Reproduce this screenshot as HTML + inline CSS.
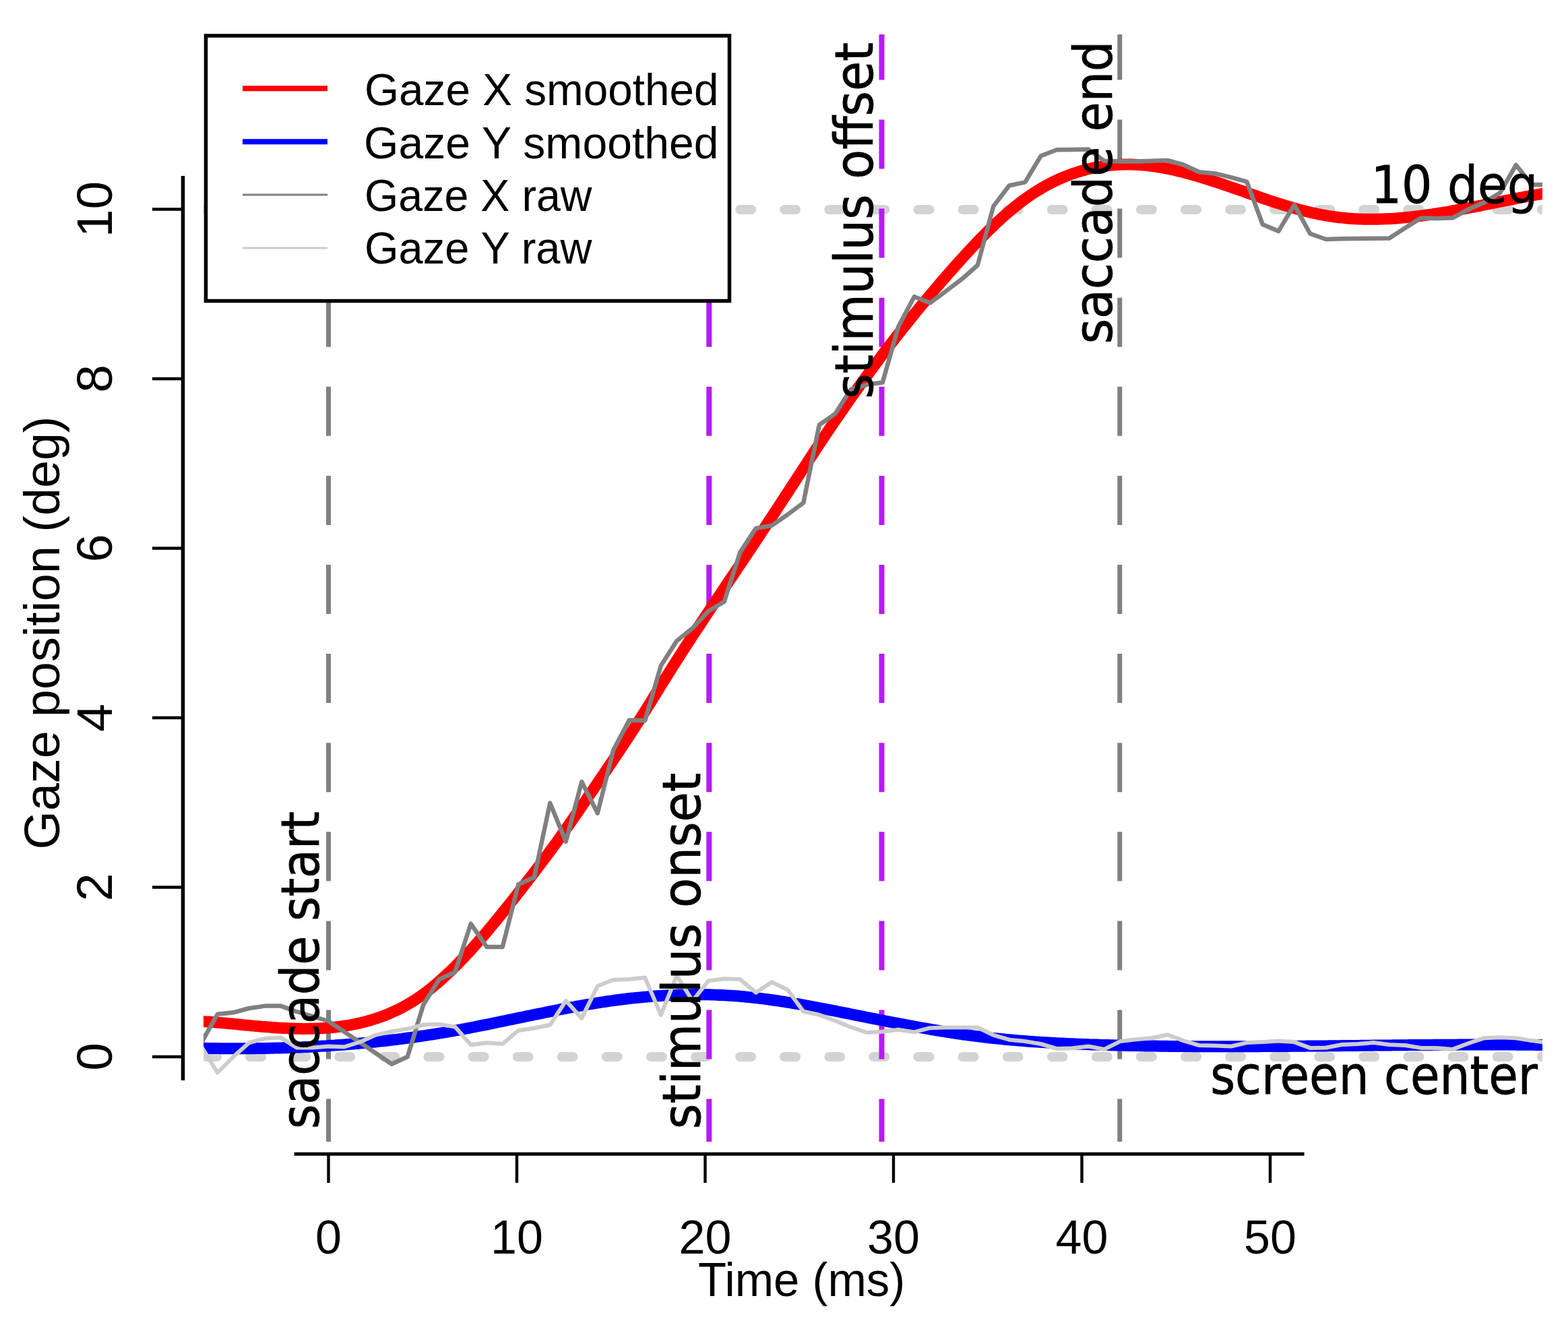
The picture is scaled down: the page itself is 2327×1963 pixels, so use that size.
<!DOCTYPE html>
<html><head><meta charset="utf-8"><title>Gaze position plot</title>
<style>html,body{margin:0;padding:0;background:#fff;overflow:hidden;} svg{display:block;}</style>
</head><body>
<svg width="2327" height="1963" viewBox="0 0 2327 1963">
<defs><clipPath id="pc"><rect x="302" y="50" width="1987" height="1644"/></clipPath><clipPath id="pcv"><rect x="302" y="51" width="1987" height="1643"/></clipPath></defs>
<rect width="2327" height="1963" fill="#fff"/>
<g clip-path="url(#pc)">
<path d="M305,311.0 H2300" stroke="#d3d3d3" stroke-width="14" stroke-linecap="round" stroke-dasharray="17 49.09" fill="none"/>
<path d="M305,1568.0 H2300" stroke="#d3d3d3" stroke-width="14" stroke-linecap="round" stroke-dasharray="17 49.09" fill="none"/>
</g><g clip-path="url(#pcv)">
<path d="M487.5,45.4 V1700" stroke="#808080" stroke-width="7" stroke-dasharray="73 59.1" fill="none"/>
<path d="M1661.8,45.4 V1700" stroke="#808080" stroke-width="7" stroke-dasharray="73 59.1" fill="none"/>
<path d="M1052.3,45.4 V1700" stroke="#b91af4" stroke-width="8" stroke-dasharray="73 59.1" fill="none"/>
<path d="M1308.5,45.4 V1700" stroke="#b91af4" stroke-width="8" stroke-dasharray="73 59.1" fill="none"/>
</g><g clip-path="url(#pc)">
<path d="M296.0,1515.1 L300.0,1515.4 L304.0,1515.7 L308.0,1515.9 L312.0,1516.2 L316.0,1516.6 L320.0,1516.9 L324.0,1517.2 L328.0,1517.6 L332.0,1517.9 L336.0,1518.3 L340.0,1518.7 L344.0,1519.0 L348.0,1519.4 L352.0,1519.8 L356.0,1520.2 L360.0,1520.6 L364.0,1521.0 L368.0,1521.3 L372.0,1521.7 L376.0,1522.1 L380.0,1522.5 L384.0,1522.8 L388.0,1523.2 L392.0,1523.5 L396.0,1523.8 L400.0,1524.1 L404.0,1524.4 L408.0,1524.7 L412.0,1525.0 L416.0,1525.2 L420.0,1525.4 L424.0,1525.6 L428.0,1525.8 L432.0,1526.0 L436.0,1526.1 L440.0,1526.2 L444.0,1526.3 L448.0,1526.4 L452.0,1526.4 L456.0,1526.4 L460.0,1526.3 L464.0,1526.2 L468.0,1526.1 L472.0,1526.0 L476.0,1525.8 L480.0,1525.6 L484.0,1525.3 L488.0,1525.0 L492.0,1524.6 L496.0,1524.2 L500.0,1523.8 L504.0,1523.3 L508.0,1522.7 L512.0,1522.1 L516.0,1521.5 L520.0,1520.8 L524.0,1520.0 L528.0,1519.2 L532.0,1518.4 L536.0,1517.4 L540.0,1516.5 L544.0,1515.4 L548.0,1514.3 L552.0,1513.1 L556.0,1511.9 L560.0,1510.6 L564.0,1509.2 L568.0,1507.7 L572.0,1506.2 L576.0,1504.6 L580.0,1502.9 L584.0,1501.1 L588.0,1499.3 L592.0,1497.3 L596.0,1495.3 L600.0,1493.1 L604.0,1490.9 L608.0,1488.5 L612.0,1486.1 L616.0,1483.6 L620.0,1480.9 L624.0,1478.2 L628.0,1475.3 L632.0,1472.3 L636.0,1469.3 L640.0,1466.1 L644.0,1462.8 L648.0,1459.5 L652.0,1456.0 L656.0,1452.5 L660.0,1448.8 L664.0,1445.1 L668.0,1441.3 L672.0,1437.4 L676.0,1433.5 L680.0,1429.4 L684.0,1425.3 L688.0,1421.1 L692.0,1416.9 L696.0,1412.6 L700.0,1408.2 L704.0,1403.7 L708.0,1399.2 L712.0,1394.7 L716.0,1390.1 L720.0,1385.4 L724.0,1380.7 L728.0,1375.9 L732.0,1371.1 L736.0,1366.3 L740.0,1361.4 L744.0,1356.5 L748.0,1351.5 L752.0,1346.5 L756.0,1341.5 L760.0,1336.5 L764.0,1331.4 L768.0,1326.3 L772.0,1321.2 L776.0,1316.1 L780.0,1310.9 L784.0,1305.8 L788.0,1300.6 L792.0,1295.4 L796.0,1290.1 L800.0,1284.9 L804.0,1279.5 L808.0,1274.2 L812.0,1268.8 L816.0,1263.4 L820.0,1257.9 L824.0,1252.4 L828.0,1246.9 L832.0,1241.3 L836.0,1235.6 L840.0,1229.9 L844.0,1224.2 L848.0,1218.5 L852.0,1212.7 L856.0,1207.0 L860.0,1201.2 L864.0,1195.3 L868.0,1189.5 L872.0,1183.7 L876.0,1177.8 L880.0,1171.9 L884.0,1166.0 L888.0,1160.2 L892.0,1154.3 L896.0,1148.4 L900.0,1142.5 L904.0,1136.6 L908.0,1130.7 L912.0,1124.7 L916.0,1118.8 L920.0,1112.8 L924.0,1106.8 L928.0,1100.8 L932.0,1094.7 L936.0,1088.6 L940.0,1082.4 L944.0,1076.2 L948.0,1069.9 L952.0,1063.6 L956.0,1057.2 L960.0,1050.8 L964.0,1044.4 L968.0,1038.0 L972.0,1031.5 L976.0,1025.1 L980.0,1018.6 L984.0,1012.1 L988.0,1005.7 L992.0,999.3 L996.0,992.9 L1000.0,986.6 L1004.0,980.3 L1008.0,974.1 L1012.0,967.8 L1016.0,961.6 L1020.0,955.5 L1024.0,949.3 L1028.0,943.2 L1032.0,937.1 L1036.0,931.0 L1040.0,925.0 L1044.0,918.9 L1048.0,912.9 L1052.0,906.9 L1056.0,900.9 L1060.0,894.9 L1064.0,888.9 L1068.0,882.9 L1072.0,877.0 L1076.0,871.0 L1080.0,865.0 L1084.0,859.1 L1088.0,853.1 L1092.0,847.1 L1096.0,841.1 L1100.0,835.2 L1104.0,829.2 L1108.0,823.2 L1112.0,817.2 L1116.0,811.2 L1120.0,805.2 L1124.0,799.2 L1128.0,793.2 L1132.0,787.1 L1136.0,781.1 L1140.0,775.0 L1144.0,769.0 L1148.0,762.9 L1152.0,756.8 L1156.0,750.7 L1160.0,744.6 L1164.0,738.4 L1168.0,732.3 L1172.0,726.1 L1176.0,720.0 L1180.0,713.8 L1184.0,707.7 L1188.0,701.5 L1192.0,695.4 L1196.0,689.3 L1200.0,683.2 L1204.0,677.1 L1208.0,671.0 L1212.0,664.9 L1216.0,658.9 L1220.0,652.9 L1224.0,646.9 L1228.0,640.9 L1232.0,635.0 L1236.0,629.1 L1240.0,623.2 L1244.0,617.4 L1248.0,611.6 L1252.0,605.8 L1256.0,600.1 L1260.0,594.4 L1264.0,588.7 L1268.0,583.1 L1272.0,577.5 L1276.0,571.9 L1280.0,566.4 L1284.0,560.9 L1288.0,555.4 L1292.0,550.0 L1296.0,544.6 L1300.0,539.2 L1304.0,533.8 L1308.0,528.5 L1312.0,523.3 L1316.0,518.0 L1320.0,512.8 L1324.0,507.6 L1328.0,502.4 L1332.0,497.3 L1336.0,492.2 L1340.0,487.1 L1344.0,482.1 L1348.0,477.1 L1352.0,472.1 L1356.0,467.2 L1360.0,462.2 L1364.0,457.3 L1368.0,452.5 L1372.0,447.7 L1376.0,442.9 L1380.0,438.1 L1384.0,433.4 L1388.0,428.6 L1392.0,424.0 L1396.0,419.3 L1400.0,414.7 L1404.0,410.1 L1408.0,405.5 L1412.0,401.0 L1416.0,396.5 L1420.0,392.0 L1424.0,387.5 L1428.0,383.1 L1432.0,378.7 L1436.0,374.4 L1440.0,370.1 L1444.0,365.8 L1448.0,361.6 L1452.0,357.4 L1456.0,353.2 L1460.0,349.2 L1464.0,345.1 L1468.0,341.2 L1472.0,337.3 L1476.0,333.4 L1480.0,329.6 L1484.0,325.9 L1488.0,322.3 L1492.0,318.7 L1496.0,315.3 L1500.0,311.9 L1504.0,308.5 L1508.0,305.3 L1512.0,302.1 L1516.0,299.1 L1520.0,296.1 L1524.0,293.3 L1528.0,290.5 L1532.0,287.8 L1536.0,285.2 L1540.0,282.7 L1544.0,280.2 L1548.0,277.9 L1552.0,275.6 L1556.0,273.5 L1560.0,271.4 L1564.0,269.4 L1568.0,267.5 L1572.0,265.6 L1576.0,263.9 L1580.0,262.2 L1584.0,260.6 L1588.0,259.1 L1592.0,257.6 L1596.0,256.3 L1600.0,255.0 L1604.0,253.8 L1608.0,252.7 L1612.0,251.6 L1616.0,250.6 L1620.0,249.7 L1624.0,248.9 L1628.0,248.1 L1632.0,247.4 L1636.0,246.8 L1640.0,246.2 L1644.0,245.7 L1648.0,245.3 L1652.0,244.9 L1656.0,244.6 L1660.0,244.4 L1664.0,244.2 L1668.0,244.1 L1672.0,244.0 L1676.0,244.1 L1680.0,244.1 L1684.0,244.3 L1688.0,244.5 L1692.0,244.7 L1696.0,245.0 L1700.0,245.4 L1704.0,245.8 L1708.0,246.3 L1712.0,246.8 L1716.0,247.4 L1720.0,248.0 L1724.0,248.7 L1728.0,249.4 L1732.0,250.2 L1736.0,251.0 L1740.0,251.8 L1744.0,252.7 L1748.0,253.7 L1752.0,254.6 L1756.0,255.6 L1760.0,256.7 L1764.0,257.7 L1768.0,258.8 L1772.0,260.0 L1776.0,261.1 L1780.0,262.3 L1784.0,263.5 L1788.0,264.8 L1792.0,266.0 L1796.0,267.3 L1800.0,268.6 L1804.0,269.9 L1808.0,271.2 L1812.0,272.6 L1816.0,273.9 L1820.0,275.3 L1824.0,276.7 L1828.0,278.1 L1832.0,279.4 L1836.0,280.8 L1840.0,282.2 L1844.0,283.6 L1848.0,285.0 L1852.0,286.5 L1856.0,287.9 L1860.0,289.2 L1864.0,290.6 L1868.0,292.0 L1872.0,293.4 L1876.0,294.8 L1880.0,296.1 L1884.0,297.5 L1888.0,298.8 L1892.0,300.1 L1896.0,301.4 L1900.0,302.6 L1904.0,303.9 L1908.0,305.1 L1912.0,306.3 L1916.0,307.5 L1920.0,308.7 L1924.0,309.8 L1928.0,310.9 L1932.0,311.9 L1936.0,313.0 L1940.0,314.0 L1944.0,314.9 L1948.0,315.9 L1952.0,316.7 L1956.0,317.6 L1960.0,318.4 L1964.0,319.1 L1968.0,319.8 L1972.0,320.5 L1976.0,321.1 L1980.0,321.7 L1984.0,322.2 L1988.0,322.7 L1992.0,323.1 L1996.0,323.5 L2000.0,323.9 L2004.0,324.2 L2008.0,324.5 L2012.0,324.7 L2016.0,324.9 L2020.0,325.1 L2024.0,325.2 L2028.0,325.3 L2032.0,325.3 L2036.0,325.3 L2040.0,325.3 L2044.0,325.2 L2048.0,325.1 L2052.0,325.0 L2056.0,324.8 L2060.0,324.7 L2064.0,324.4 L2068.0,324.2 L2072.0,323.9 L2076.0,323.6 L2080.0,323.3 L2084.0,322.9 L2088.0,322.5 L2092.0,322.1 L2096.0,321.7 L2100.0,321.3 L2104.0,320.8 L2108.0,320.3 L2112.0,319.8 L2116.0,319.2 L2120.0,318.7 L2124.0,318.1 L2128.0,317.5 L2132.0,316.9 L2136.0,316.2 L2140.0,315.6 L2144.0,314.9 L2148.0,314.3 L2152.0,313.6 L2156.0,312.9 L2160.0,312.2 L2164.0,311.4 L2168.0,310.7 L2172.0,310.0 L2176.0,309.2 L2180.0,308.4 L2184.0,307.7 L2188.0,306.9 L2192.0,306.1 L2196.0,305.3 L2200.0,304.5 L2204.0,303.7 L2208.0,302.9 L2212.0,302.1 L2216.0,301.3 L2220.0,300.5 L2224.0,299.7 L2228.0,298.9 L2232.0,298.1 L2236.0,297.3 L2240.0,296.6 L2244.0,295.8 L2248.0,295.0 L2252.0,294.2 L2256.0,293.4 L2260.0,292.7 L2264.0,291.9 L2268.0,291.2 L2272.0,290.4 L2276.0,289.7 L2280.0,289.0 L2284.0,288.3 L2288.0,287.6 L2292.0,286.9 L2296.0,286.2" stroke="#ff0000" stroke-width="17" fill="none" stroke-linejoin="round" stroke-linecap="round"/>
<path d="M296.0,1555.1 L300.0,1555.2 L304.0,1555.3 L308.0,1555.4 L312.0,1555.4 L316.0,1555.5 L320.0,1555.6 L324.0,1555.6 L328.0,1555.7 L332.0,1555.7 L336.0,1555.7 L340.0,1555.7 L344.0,1555.8 L348.0,1555.8 L352.0,1555.8 L356.0,1555.8 L360.0,1555.8 L364.0,1555.7 L368.0,1555.7 L372.0,1555.7 L376.0,1555.7 L380.0,1555.6 L384.0,1555.6 L388.0,1555.5 L392.0,1555.4 L396.0,1555.4 L400.0,1555.3 L404.0,1555.2 L408.0,1555.1 L412.0,1555.0 L416.0,1554.9 L420.0,1554.8 L424.0,1554.7 L428.0,1554.5 L432.0,1554.4 L436.0,1554.2 L440.0,1554.1 L444.0,1553.9 L448.0,1553.8 L452.0,1553.6 L456.0,1553.4 L460.0,1553.2 L464.0,1553.0 L468.0,1552.8 L472.0,1552.6 L476.0,1552.3 L480.0,1552.1 L484.0,1551.9 L488.0,1551.6 L492.0,1551.3 L496.0,1551.1 L500.0,1550.8 L504.0,1550.5 L508.0,1550.2 L512.0,1549.9 L516.0,1549.6 L520.0,1549.3 L524.0,1548.9 L528.0,1548.6 L532.0,1548.3 L536.0,1547.9 L540.0,1547.5 L544.0,1547.1 L548.0,1546.8 L552.0,1546.4 L556.0,1546.0 L560.0,1545.5 L564.0,1545.1 L568.0,1544.7 L572.0,1544.2 L576.0,1543.8 L580.0,1543.3 L584.0,1542.8 L588.0,1542.4 L592.0,1541.9 L596.0,1541.4 L600.0,1540.8 L604.0,1540.3 L608.0,1539.8 L612.0,1539.2 L616.0,1538.7 L620.0,1538.1 L624.0,1537.5 L628.0,1536.9 L632.0,1536.3 L636.0,1535.7 L640.0,1535.1 L644.0,1534.5 L648.0,1533.8 L652.0,1533.2 L656.0,1532.5 L660.0,1531.8 L664.0,1531.2 L668.0,1530.5 L672.0,1529.8 L676.0,1529.0 L680.0,1528.3 L684.0,1527.6 L688.0,1526.8 L692.0,1526.1 L696.0,1525.3 L700.0,1524.5 L704.0,1523.8 L708.0,1523.0 L712.0,1522.2 L716.0,1521.4 L720.0,1520.6 L724.0,1519.8 L728.0,1519.0 L732.0,1518.2 L736.0,1517.3 L740.0,1516.5 L744.0,1515.7 L748.0,1514.9 L752.0,1514.0 L756.0,1513.2 L760.0,1512.4 L764.0,1511.5 L768.0,1510.7 L772.0,1509.9 L776.0,1509.1 L780.0,1508.2 L784.0,1507.4 L788.0,1506.6 L792.0,1505.7 L796.0,1504.9 L800.0,1504.1 L804.0,1503.3 L808.0,1502.5 L812.0,1501.7 L816.0,1500.9 L820.0,1500.1 L824.0,1499.3 L828.0,1498.5 L832.0,1497.7 L836.0,1497.0 L840.0,1496.2 L844.0,1495.5 L848.0,1494.7 L852.0,1494.0 L856.0,1493.2 L860.0,1492.5 L864.0,1491.8 L868.0,1491.1 L872.0,1490.4 L876.0,1489.8 L880.0,1489.1 L884.0,1488.5 L888.0,1487.8 L892.0,1487.2 L896.0,1486.6 L900.0,1486.0 L904.0,1485.4 L908.0,1484.9 L912.0,1484.3 L916.0,1483.8 L920.0,1483.3 L924.0,1482.8 L928.0,1482.3 L932.0,1481.8 L936.0,1481.3 L940.0,1480.9 L944.0,1480.5 L948.0,1480.1 L952.0,1479.7 L956.0,1479.3 L960.0,1479.0 L964.0,1478.6 L968.0,1478.3 L972.0,1478.0 L976.0,1477.7 L980.0,1477.4 L984.0,1477.2 L988.0,1477.0 L992.0,1476.7 L996.0,1476.6 L1000.0,1476.4 L1004.0,1476.2 L1008.0,1476.1 L1012.0,1476.0 L1016.0,1475.9 L1020.0,1475.8 L1024.0,1475.7 L1028.0,1475.7 L1032.0,1475.6 L1036.0,1475.6 L1040.0,1475.7 L1044.0,1475.7 L1048.0,1475.8 L1052.0,1475.8 L1056.0,1475.9 L1060.0,1476.1 L1064.0,1476.2 L1068.0,1476.4 L1072.0,1476.5 L1076.0,1476.8 L1080.0,1477.0 L1084.0,1477.2 L1088.0,1477.5 L1092.0,1477.8 L1096.0,1478.1 L1100.0,1478.4 L1104.0,1478.8 L1108.0,1479.2 L1112.0,1479.6 L1116.0,1480.0 L1120.0,1480.5 L1124.0,1480.9 L1128.0,1481.4 L1132.0,1481.9 L1136.0,1482.4 L1140.0,1482.9 L1144.0,1483.5 L1148.0,1484.0 L1152.0,1484.6 L1156.0,1485.2 L1160.0,1485.8 L1164.0,1486.4 L1168.0,1487.1 L1172.0,1487.7 L1176.0,1488.4 L1180.0,1489.1 L1184.0,1489.7 L1188.0,1490.4 L1192.0,1491.1 L1196.0,1491.9 L1200.0,1492.6 L1204.0,1493.3 L1208.0,1494.1 L1212.0,1494.8 L1216.0,1495.6 L1220.0,1496.3 L1224.0,1497.1 L1228.0,1497.9 L1232.0,1498.6 L1236.0,1499.4 L1240.0,1500.2 L1244.0,1501.0 L1248.0,1501.8 L1252.0,1502.6 L1256.0,1503.4 L1260.0,1504.2 L1264.0,1505.0 L1268.0,1505.8 L1272.0,1506.6 L1276.0,1507.4 L1280.0,1508.2 L1284.0,1509.0 L1288.0,1509.8 L1292.0,1510.6 L1296.0,1511.4 L1300.0,1512.2 L1304.0,1513.0 L1308.0,1513.8 L1312.0,1514.5 L1316.0,1515.3 L1320.0,1516.1 L1324.0,1516.9 L1328.0,1517.6 L1332.0,1518.4 L1336.0,1519.2 L1340.0,1519.9 L1344.0,1520.7 L1348.0,1521.4 L1352.0,1522.1 L1356.0,1522.9 L1360.0,1523.6 L1364.0,1524.3 L1368.0,1525.0 L1372.0,1525.7 L1376.0,1526.4 L1380.0,1527.1 L1384.0,1527.8 L1388.0,1528.5 L1392.0,1529.1 L1396.0,1529.8 L1400.0,1530.4 L1404.0,1531.1 L1408.0,1531.7 L1412.0,1532.3 L1416.0,1532.9 L1420.0,1533.5 L1424.0,1534.1 L1428.0,1534.7 L1432.0,1535.2 L1436.0,1535.8 L1440.0,1536.3 L1444.0,1536.9 L1448.0,1537.4 L1452.0,1537.9 L1456.0,1538.4 L1460.0,1538.8 L1464.0,1539.3 L1468.0,1539.7 L1472.0,1540.2 L1476.0,1540.6 L1480.0,1541.0 L1484.0,1541.4 L1488.0,1541.8 L1492.0,1542.2 L1496.0,1542.6 L1500.0,1542.9 L1504.0,1543.3 L1508.0,1543.6 L1512.0,1544.0 L1516.0,1544.3 L1520.0,1544.6 L1524.0,1544.9 L1528.0,1545.2 L1532.0,1545.5 L1536.0,1545.8 L1540.0,1546.0 L1544.0,1546.3 L1548.0,1546.5 L1552.0,1546.8 L1556.0,1547.0 L1560.0,1547.3 L1564.0,1547.5 L1568.0,1547.7 L1572.0,1547.9 L1576.0,1548.1 L1580.0,1548.3 L1584.0,1548.5 L1588.0,1548.7 L1592.0,1548.8 L1596.0,1549.0 L1600.0,1549.2 L1604.0,1549.3 L1608.0,1549.5 L1612.0,1549.6 L1616.0,1549.8 L1620.0,1549.9 L1624.0,1550.0 L1628.0,1550.1 L1632.0,1550.3 L1636.0,1550.4 L1640.0,1550.5 L1644.0,1550.6 L1648.0,1550.7 L1652.0,1550.8 L1656.0,1550.9 L1660.0,1551.0 L1664.0,1551.1 L1668.0,1551.2 L1672.0,1551.3 L1676.0,1551.4 L1680.0,1551.5 L1684.0,1551.6 L1688.0,1551.6 L1692.0,1551.7 L1696.0,1551.8 L1700.0,1551.9 L1704.0,1551.9 L1708.0,1552.0 L1712.0,1552.0 L1716.0,1552.1 L1720.0,1552.2 L1724.0,1552.2 L1728.0,1552.3 L1732.0,1552.3 L1736.0,1552.4 L1740.0,1552.4 L1744.0,1552.4 L1748.0,1552.5 L1752.0,1552.5 L1756.0,1552.5 L1760.0,1552.6 L1764.0,1552.6 L1768.0,1552.6 L1772.0,1552.7 L1776.0,1552.7 L1780.0,1552.7 L1784.0,1552.7 L1788.0,1552.7 L1792.0,1552.7 L1796.0,1552.8 L1800.0,1552.8 L1804.0,1552.8 L1808.0,1552.8 L1812.0,1552.8 L1816.0,1552.8 L1820.0,1552.8 L1824.0,1552.8 L1828.0,1552.8 L1832.0,1552.8 L1836.0,1552.8 L1840.0,1552.8 L1844.0,1552.7 L1848.0,1552.7 L1852.0,1552.7 L1856.0,1552.7 L1860.0,1552.7 L1864.0,1552.7 L1868.0,1552.7 L1872.0,1552.6 L1876.0,1552.6 L1880.0,1552.6 L1884.0,1552.6 L1888.0,1552.5 L1892.0,1552.5 L1896.0,1552.5 L1900.0,1552.5 L1904.0,1552.4 L1908.0,1552.4 L1912.0,1552.4 L1916.0,1552.3 L1920.0,1552.3 L1924.0,1552.3 L1928.0,1552.2 L1932.0,1552.2 L1936.0,1552.2 L1940.0,1552.1 L1944.0,1552.1 L1948.0,1552.1 L1952.0,1552.0 L1956.0,1552.0 L1960.0,1552.0 L1964.0,1551.9 L1968.0,1551.9 L1972.0,1551.8 L1976.0,1551.8 L1980.0,1551.8 L1984.0,1551.7 L1988.0,1551.7 L1992.0,1551.6 L1996.0,1551.6 L2000.0,1551.5 L2004.0,1551.5 L2008.0,1551.5 L2012.0,1551.4 L2016.0,1551.4 L2020.0,1551.3 L2024.0,1551.3 L2028.0,1551.2 L2032.0,1551.2 L2036.0,1551.2 L2040.0,1551.1 L2044.0,1551.1 L2048.0,1551.0 L2052.0,1551.0 L2056.0,1551.0 L2060.0,1550.9 L2064.0,1550.9 L2068.0,1550.8 L2072.0,1550.8 L2076.0,1550.8 L2080.0,1550.7 L2084.0,1550.7 L2088.0,1550.7 L2092.0,1550.6 L2096.0,1550.6 L2100.0,1550.5 L2104.0,1550.5 L2108.0,1550.5 L2112.0,1550.5 L2116.0,1550.4 L2120.0,1550.4 L2124.0,1550.4 L2128.0,1550.3 L2132.0,1550.3 L2136.0,1550.3 L2140.0,1550.3 L2144.0,1550.2 L2148.0,1550.2 L2152.0,1550.2 L2156.0,1550.2 L2160.0,1550.2 L2164.0,1550.1 L2168.0,1550.1 L2172.0,1550.1 L2176.0,1550.1 L2180.0,1550.1 L2184.0,1550.1 L2188.0,1550.1 L2192.0,1550.1 L2196.0,1550.0 L2200.0,1550.0 L2204.0,1550.0 L2208.0,1550.0 L2212.0,1550.0 L2216.0,1550.0 L2220.0,1550.1 L2224.0,1550.1 L2228.0,1550.1 L2232.0,1550.1 L2236.0,1550.1 L2240.0,1550.1 L2244.0,1550.1 L2248.0,1550.1 L2252.0,1550.2 L2256.0,1550.2 L2260.0,1550.2 L2264.0,1550.2 L2268.0,1550.3 L2272.0,1550.3 L2276.0,1550.3 L2280.0,1550.4 L2284.0,1550.4 L2288.0,1550.4 L2292.0,1550.5 L2296.0,1550.5" stroke="#0000ff" stroke-width="17" fill="none" stroke-linejoin="round" stroke-linecap="round"/>
<path d="M299.3,1546.3 L322.8,1504.8 L346.3,1502.3 L369.8,1496.0 L393.3,1492.6 L416.8,1492.6 L440.3,1501.0 L463.8,1508.0 L487.3,1515.0 L510.8,1530.9 L534.3,1546.8 L557.8,1562.8 L581.3,1578.7 L604.8,1568.0 L628.3,1490.7 L651.8,1453.2 L675.3,1442.5 L698.8,1370.6 L722.3,1405.0 L745.8,1405.0 L769.3,1312.3 L792.8,1301.7 L816.3,1191.5 L839.8,1248.7 L863.3,1160.0 L886.8,1206.5 L910.3,1112.8 L933.8,1068.4 L957.3,1069.0 L980.8,987.8 L1004.3,951.0 L1027.8,932.0 L1051.3,906.7 L1074.8,892.8 L1098.3,819.6 L1121.8,783.9 L1145.3,779.8 L1168.8,763.5 L1192.3,746.0 L1215.8,630.5 L1239.3,614.2 L1262.8,577.6 L1286.3,570.8 L1309.8,567.5 L1333.3,484.5 L1356.8,440.2 L1380.3,449.4 L1403.8,432.0 L1427.3,414.2 L1450.8,393.5 L1474.3,306.0 L1497.8,275.2 L1521.3,270.4 L1544.8,231.2 L1568.3,222.3 L1591.8,221.9 L1615.3,221.6 L1638.8,238.8 L1662.3,239.5 L1685.8,239.5 L1709.3,238.8 L1732.8,238.0 L1756.3,244.5 L1779.8,255.3 L1803.3,257.4 L1826.8,263.2 L1850.3,269.7 L1873.8,333.0 L1897.3,343.1 L1920.8,304.0 L1944.3,346.8 L1967.8,355.0 L1991.3,354.3 L2014.8,354.0 L2038.3,353.7 L2061.8,353.5 L2085.3,338.2 L2108.8,323.5 L2132.3,323.9 L2155.8,323.3 L2179.3,310.7 L2202.8,300.3 L2226.3,286.0 L2249.8,244.7 L2273.3,274.0 L2296.8,274.0" stroke="#808080" stroke-width="6.5" fill="none" stroke-linejoin="round" stroke-linecap="round"/>
<path d="M299.3,1553.5 L322.8,1591.5 L346.3,1568.0 L369.8,1547.0 L393.3,1540.8 L416.8,1539.6 L440.3,1554.5 L463.8,1554.5 L487.3,1552.6 L510.8,1553.3 L534.3,1546.0 L557.8,1535.6 L581.3,1530.5 L604.8,1526.6 L628.3,1520.5 L651.8,1519.7 L675.3,1523.6 L698.8,1550.3 L722.3,1547.3 L745.8,1548.8 L769.3,1529.0 L792.8,1525.5 L816.3,1520.8 L839.8,1484.8 L863.3,1510.9 L886.8,1463.0 L910.3,1453.7 L933.8,1453.0 L957.3,1450.6 L980.8,1505.9 L1004.3,1447.5 L1027.8,1485.0 L1051.3,1455.4 L1074.8,1452.3 L1098.3,1453.0 L1121.8,1472.8 L1145.3,1457.3 L1168.8,1468.5 L1192.3,1500.8 L1215.8,1505.8 L1239.3,1514.5 L1262.8,1524.0 L1286.3,1532.0 L1309.8,1530.7 L1333.3,1527.7 L1356.8,1531.4 L1380.3,1525.2 L1403.8,1524.6 L1427.3,1524.6 L1450.8,1524.6 L1474.3,1535.8 L1497.8,1542.7 L1521.3,1545.1 L1544.8,1549.0 L1568.3,1555.9 L1591.8,1555.3 L1615.3,1552.5 L1638.8,1556.9 L1662.3,1545.1 L1685.8,1542.2 L1709.3,1540.2 L1732.8,1535.3 L1756.3,1544.1 L1779.8,1551.0 L1803.3,1551.4 L1826.8,1552.5 L1850.3,1547.1 L1873.8,1546.1 L1897.3,1544.6 L1920.8,1546.1 L1944.3,1554.9 L1967.8,1554.5 L1991.3,1550.0 L2014.8,1549.0 L2038.3,1547.1 L2061.8,1550.0 L2085.3,1551.0 L2108.8,1554.9 L2132.3,1554.9 L2155.8,1556.9 L2179.3,1548.0 L2202.8,1540.2 L2226.3,1539.2 L2249.8,1540.2 L2273.3,1544.1 L2296.8,1547.0" stroke="#cccccc" stroke-width="6" fill="none" stroke-linejoin="round" stroke-linecap="round"/>
</g>
<g stroke="#000" fill="none" stroke-linecap="butt">
<path d="M271.5,261 V1603" stroke-width="5.5"/>
<path d="M226,1568.0 H271.5" stroke-width="4.5"/>
<path d="M226,1316.5 H271.5" stroke-width="4.5"/>
<path d="M226,1065.0 H271.5" stroke-width="4.5"/>
<path d="M226,813.5 H271.5" stroke-width="4.5"/>
<path d="M226,562.0 H271.5" stroke-width="4.5"/>
<path d="M226,310.5 H271.5" stroke-width="4.5"/>
<path d="M436.6,1712.3 H1935.6" stroke-width="5"/>
<path d="M487.5,1712 V1755" stroke-width="4.4"/>
<path d="M767.0,1712 V1755" stroke-width="4.4"/>
<path d="M1046.5,1712 V1755" stroke-width="4.4"/>
<path d="M1326.0,1712 V1755" stroke-width="4.4"/>
<path d="M1605.5,1712 V1755" stroke-width="4.4"/>
<path d="M1885.0,1712 V1755" stroke-width="4.4"/>
</g>
<g font-family="'Liberation Sans', Arial, Helvetica, sans-serif" fill="#000">
<text transform="translate(165.8,1568.0) rotate(-90)" text-anchor="middle" font-size="75">0</text>
<text transform="translate(165.8,1316.5) rotate(-90)" text-anchor="middle" font-size="75">2</text>
<text transform="translate(165.8,1065.0) rotate(-90)" text-anchor="middle" font-size="75">4</text>
<text transform="translate(165.8,813.5) rotate(-90)" text-anchor="middle" font-size="75">6</text>
<text transform="translate(165.8,562.0) rotate(-90)" text-anchor="middle" font-size="75">8</text>
<text transform="translate(165.8,310.5) rotate(-90)" text-anchor="middle" font-size="75">10</text>
<text x="487.5" y="1859.5" text-anchor="middle" font-size="70">0</text>
<text x="767.0" y="1859.5" text-anchor="middle" font-size="70">10</text>
<text x="1046.5" y="1859.5" text-anchor="middle" font-size="70">20</text>
<text x="1326.0" y="1859.5" text-anchor="middle" font-size="70">30</text>
<text x="1605.5" y="1859.5" text-anchor="middle" font-size="70">40</text>
<text x="1885.0" y="1859.5" text-anchor="middle" font-size="70">50</text>
<text x="1035.90" y="1923" font-size="71.2" textLength="307.30" lengthAdjust="spacingAndGlyphs">Time (ms)</text>
<text transform="translate(88.3,1260.40) rotate(-90)" font-size="73.5" textLength="642.80" lengthAdjust="spacingAndGlyphs">Gaze position (deg)</text>
</g>
<rect x="305.5" y="53" width="777" height="393.5" fill="#fff" stroke="#000" stroke-width="5.5"/>
<path d="M360,131.3 H486" stroke="#ff0000" stroke-width="8"/>
<text x="541.00" y="156.2" font-family="'Liberation Sans', Arial, Helvetica, sans-serif" font-size="66.2" textLength="525.50" lengthAdjust="spacingAndGlyphs">Gaze X smoothed</text>
<path d="M360,210.2 H486" stroke="#0000ff" stroke-width="8"/>
<text x="540.00" y="234.5" font-family="'Liberation Sans', Arial, Helvetica, sans-serif" font-size="66.2" textLength="526.50" lengthAdjust="spacingAndGlyphs">Gaze Y smoothed</text>
<path d="M360,289.1 H486" stroke="#808080" stroke-width="3"/>
<text x="541.00" y="312.8" font-family="'Liberation Sans', Arial, Helvetica, sans-serif" font-size="66.2" textLength="337.50" lengthAdjust="spacingAndGlyphs">Gaze X raw</text>
<path d="M360,368.0 H486" stroke="#cccccc" stroke-width="3"/>
<text x="541.00" y="391.1" font-family="'Liberation Sans', Arial, Helvetica, sans-serif" font-size="66.2" textLength="337.50" lengthAdjust="spacingAndGlyphs">Gaze Y raw</text>
<text transform="translate(473.4,1675.00) rotate(-90)" font-family="'DejaVu Sans Condensed', 'DejaVu Sans', 'Liberation Sans', sans-serif" font-size="78" stroke="#000" stroke-width="0.8" textLength="471.00" lengthAdjust="spacingAndGlyphs">saccade start</text>
<text transform="translate(1038.6,1675.20) rotate(-90)" font-family="'DejaVu Sans Condensed', 'DejaVu Sans', 'Liberation Sans', sans-serif" font-size="78" stroke="#000" stroke-width="0.8" textLength="528.50" lengthAdjust="spacingAndGlyphs">stimulus onset</text>
<text transform="translate(1295.0,591.70) rotate(-90)" font-family="'DejaVu Sans Condensed', 'DejaVu Sans', 'Liberation Sans', sans-serif" font-size="78" stroke="#000" stroke-width="0.8" textLength="528.80" lengthAdjust="spacingAndGlyphs">stimulus offset</text>
<text transform="translate(1650.4,510.30) rotate(-90)" font-family="'DejaVu Sans Condensed', 'DejaVu Sans', 'Liberation Sans', sans-serif" font-size="78" stroke="#000" stroke-width="0.8" textLength="449.60" lengthAdjust="spacingAndGlyphs">saccade end</text>
<text x="2034.70" y="301.0" font-family="'DejaVu Sans Condensed', 'DejaVu Sans', 'Liberation Sans', sans-serif" font-size="76" stroke="#000" stroke-width="0.8" textLength="247.50" lengthAdjust="spacingAndGlyphs">10 deg</text>
<text x="1796.20" y="1622.5" font-family="'DejaVu Sans Condensed', 'DejaVu Sans', 'Liberation Sans', sans-serif" font-size="78" stroke="#000" stroke-width="0.8" textLength="485.80" lengthAdjust="spacingAndGlyphs">screen center</text>
</svg>
</body></html>
